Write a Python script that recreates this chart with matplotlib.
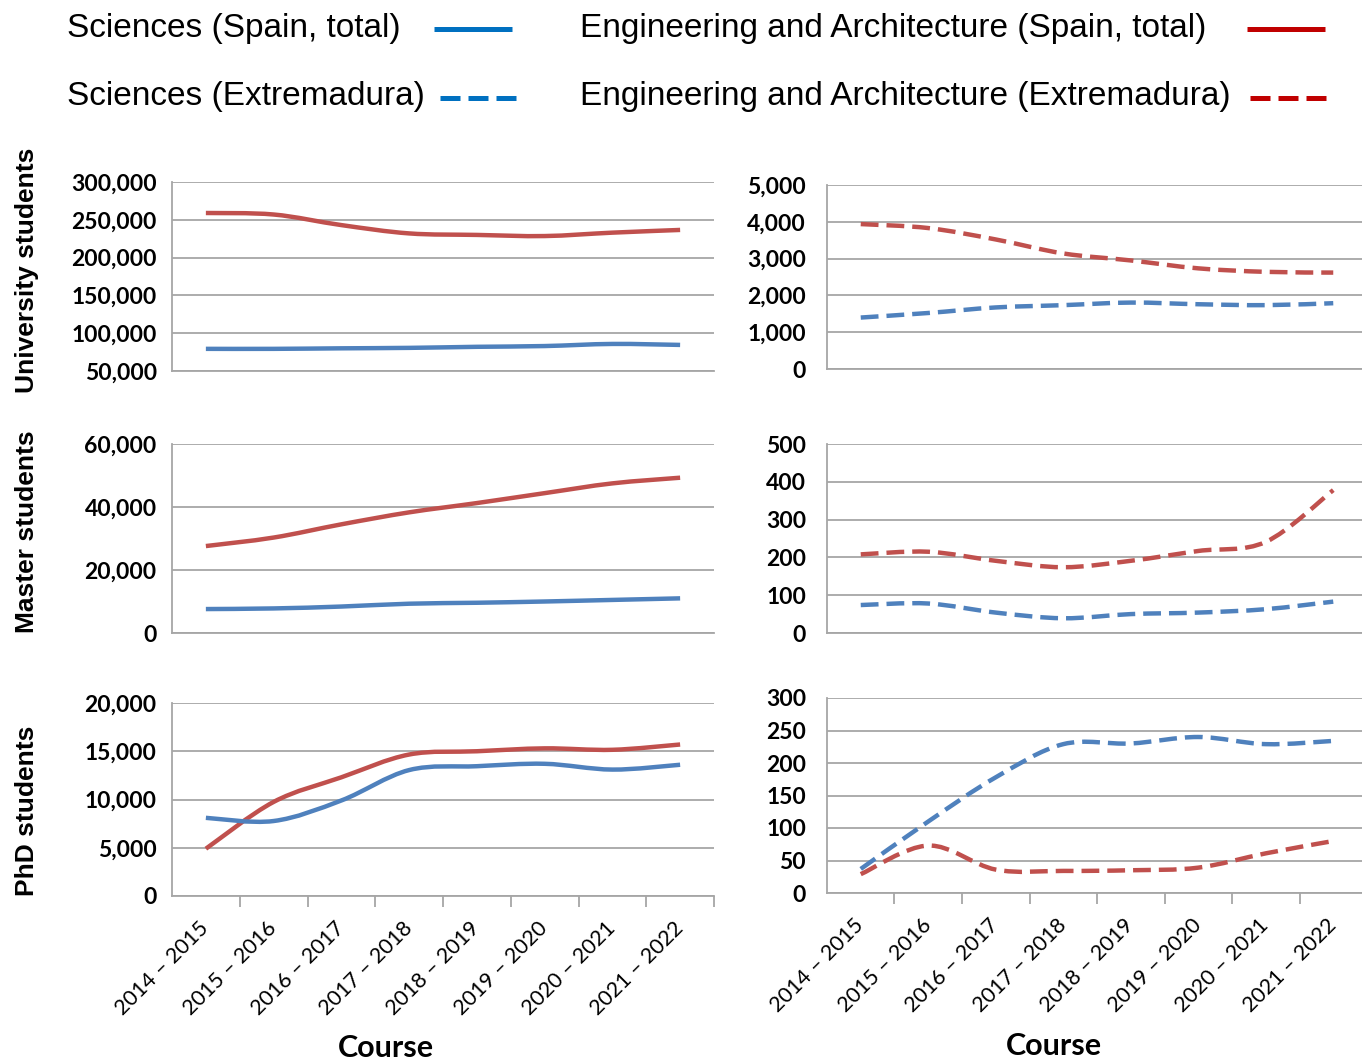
import matplotlib
matplotlib.use('Agg')
import matplotlib.pyplot as plt
from matplotlib.path import Path
from matplotlib.patches import PathPatch
from matplotlib.lines import Line2D
from matplotlib.ticker import FuncFormatter
import numpy as np

# ---------------- data ----------------
courses = ['2014 – 2015', '2015 – 2016', '2016 – 2017', '2017 – 2018',
           '2018 – 2019', '2019 – 2020', '2020 – 2021', '2021 – 2022']

uni_sci_spain = [79300, 79300, 80000, 80600, 82000, 83000, 85800, 84500]
uni_eng_spain = [259000, 257000, 243000, 232000, 230000, 228500, 233000, 236600]
uni_sci_extr = [1398, 1522, 1673, 1735, 1805, 1760, 1735, 1788]
uni_eng_extr = [3938, 3830, 3520, 3140, 2950, 2735, 2640, 2620]

mas_sci_spain = [7600, 7800, 8400, 9300, 9600, 10000, 10500, 11000]
mas_eng_spain = [27600, 30300, 34500, 38300, 41250, 44400, 47500, 49300]
mas_sci_extr = [74, 78, 54, 39, 50, 54, 63, 83]
mas_eng_extr = [208, 215, 191, 174, 191, 217, 241, 378]

phd_sci_spain = [8100, 7770, 9900, 13050, 13450, 13700, 13100, 13600]
phd_eng_spain = [4900, 9750, 12300, 14660, 15000, 15300, 15150, 15700]
phd_sci_extr = [37, 110, 178, 229, 230, 240, 229, 234]
phd_eng_extr = [29, 73, 36, 34, 35, 39, 61, 80]

row_titles = ['University students', 'Master students', 'PhD students']
legend_labels = ['Sciences (Spain, total)', 'Engineering and Architecture (Spain, total)',
                 'Sciences (Extremadura)', 'Engineering and Architecture (Extremadura)']

# ---------------- style ----------------
BLUE = '#4F81BD'
RED = '#C0504D'
LBLUE = '#0070C0'
LRED = '#C00000'
GRID = '#A6A6A6'
LW = 3.2
DASH = (0, (4.0, 1.8))
TICKFONT = 'Lato'

W, H = 1362, 1061
fig = plt.figure(figsize=(W / 100, H / 100), dpi=100)


def axpos(l, t, r, b):
    return [l / W, 1 - b / H, (r - l) / W, (b - t) / H]


def smooth_path(xs, ys):
    pts = list(zip(xs, ys))
    n = len(pts)
    verts = [pts[0]]
    codes = [Path.MOVETO]
    for i in range(n - 1):
        p0 = pts[i - 1] if i > 0 else pts[i]
        p1 = pts[i]
        p2 = pts[i + 1]
        p3 = pts[i + 2] if i + 2 < n else pts[i + 1]
        c1 = (p1[0] + (p2[0] - p0[0]) / 6, p1[1] + (p2[1] - p0[1]) / 6)
        c2 = (p2[0] - (p3[0] - p1[0]) / 6, p2[1] - (p3[1] - p1[1]) / 6)
        verts += [c1, c2, p2]
        codes += [Path.CURVE4] * 3
    return Path(verts, codes)


def draw_series(ax, values, color, dashed):
    xs = np.arange(1, len(values) + 1)
    p = smooth_path(xs, values)
    patch = PathPatch(p, fill=False, edgecolor=color, lw=LW,
                      linestyle=DASH if dashed else '-', capstyle='butt',
                      joinstyle='round', zorder=3)
    ax.add_patch(patch)


def style_axes(ax, ylim, step, bottom, pad):
    ax.set_xlim(0.5, 8.5)
    ax.set_ylim(*ylim)
    ax.set_yticks(np.arange(ylim[0], ylim[1] + step / 2, step))
    ax.yaxis.set_major_formatter(FuncFormatter(lambda v, p: f'{v:,.0f}'))
    ax.grid(axis='y', color=GRID, lw=1.3)
    ax.set_axisbelow(True)
    for s in ['top', 'right']:
        ax.spines[s].set_visible(False)
    for s in ['left', 'bottom']:
        ax.spines[s].set_color(GRID)
        ax.spines[s].set_linewidth(1.3)
    ax.tick_params(axis='y', length=0, pad=pad, labelsize=16.5)
    for lab in ax.get_yticklabels():
        lab.set_fontfamily(TICKFONT)
        lab.set_fontweight('bold')
    if bottom:
        ax.set_xticks(np.arange(1, 9))
        ax.set_xticklabels(courses, rotation=45, ha='right', va='center',
                           rotation_mode='anchor', fontsize=15.5, fontfamily=TICKFONT)
        ax.set_xticks(np.arange(1.5, 9, 1), minor=True)
        ax.tick_params(axis='x', which='major', length=0, pad=21)
        ax.tick_params(axis='x', which='minor', length=8, width=1.3, color=GRID,
                       direction='out')
    else:
        ax.set_xticks([])


# left and right column pixel extents
LX = (172, 714)
RX = (827, 1367)
rows = [
    dict(lt=182, lb=371, rt=185, rb=369,
         left=(uni_sci_spain, uni_eng_spain, (50000, 300000), 50000),
         right=(uni_sci_extr, uni_eng_extr, (0, 5000), 1000)),
    dict(lt=444, lb=633, rt=444, rb=633,
         left=(mas_sci_spain, mas_eng_spain, (0, 60000), 20000),
         right=(mas_sci_extr, mas_eng_extr, (0, 500), 100)),
    dict(lt=703, lb=896, rt=698, rb=893,
         left=(phd_sci_spain, phd_eng_spain, (0, 20000), 5000),
         right=(phd_sci_extr, phd_eng_extr, (0, 300), 50)),
]

for i, r in enumerate(rows):
    bottom = (i == 2)
    axl = fig.add_axes(axpos(LX[0], r['lt'], LX[1], r['lb']))
    sci, eng, ylim, step = r['left']
    style_axes(axl, ylim, step, bottom, pad=11)
    draw_series(axl, eng, RED, False)
    draw_series(axl, sci, BLUE, False)

    axr = fig.add_axes(axpos(RX[0], r['rt'], RX[1], r['rb']))
    sci, eng, ylim, step = r['right']
    style_axes(axr, ylim, step, bottom, pad=15)
    draw_series(axr, eng, RED, True)
    draw_series(axr, sci, BLUE, True)

# row titles
for title, yc in zip(row_titles, [270, 532, 811]):
    fig.text(27 / W, 1 - yc / H, title, rotation=90, ha='center', va='center',
             fontsize=19, fontweight='bold', fontfamily='Liberation Sans')

# x-axis titles
fig.text(386 / W, 1 - 1048 / H, 'Course', ha='center', va='center',
         fontsize=22, fontweight='bold', fontfamily=TICKFONT)
fig.text(1054 / W, 1 - 1046 / H, 'Course', ha='center', va='center',
         fontsize=22, fontweight='bold', fontfamily=TICKFONT)

# legend
leg = [
    (67, 28, legend_labels[0], (434, 512), LBLUE, '-'),
    (580, 28, legend_labels[1], (1247, 1325), LRED, '-'),
    (67, 97, legend_labels[2], (440, 517), LBLUE, 'dash'),
    (580, 97, legend_labels[3], (1250, 1328), LRED, 'dash'),
]
for tx, ty, lab, (x0, x1), col, ls in leg:
    fig.text(tx / W, 1 - ty / H, lab, ha='left', va='center', fontsize=24,
             fontfamily='Liberation Sans')
    line = Line2D([x0 / W, x1 / W], [1 - (ty + 1) / H, 1 - (ty + 1) / H],
                  transform=fig.transFigure, color=col, lw=3.6,
                  linestyle=(0, (4.0, 1.6)) if ls == 'dash' else '-',
                  solid_capstyle='butt', dash_capstyle='butt')
    fig.add_artist(line)

fig.savefig('out.png', dpi=100)
